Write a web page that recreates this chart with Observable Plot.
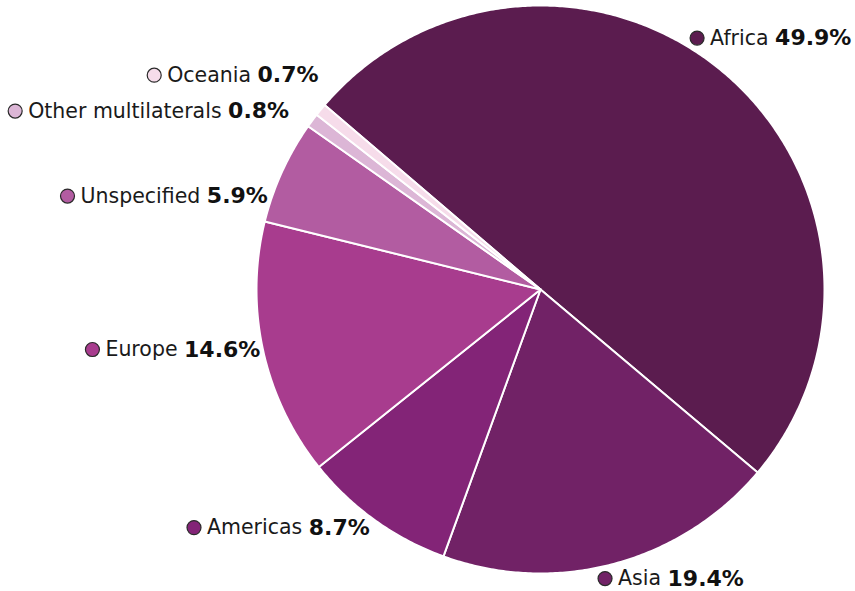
<!DOCTYPE html>
<html>
<head>
<meta charset="utf-8">
<script src="https://cdn.jsdelivr.net/npm/d3@7"></script>
<script src="https://cdn.jsdelivr.net/npm/@observablehq/plot@0.6"></script>
<style>
  html, body { margin: 0; padding: 0; background: #fff; }
  #chart svg { display: block; }
</style>
</head>
<body>
<div id="chart"></div>
<script>
// ---- data ----
const names = ["Africa", "Asia", "Americas", "Europe", "Unspecified", "Other multilaterals", "Oceania"];
const shares = [49.9, 19.4, 8.7, 14.6, 5.9, 0.8, 0.7];
const pctLabels = ["49.9%", "19.4%", "8.7%", "14.6%", "5.9%", "0.8%", "0.7%"];
const colors = ["#5b1c4f", "#712266", "#832477", "#a83c8e", "#b25ca1", "#dcb6d6", "#f6dcea"];

// ---- layout ----
const W = 855, H = 591;
const cx = 540, cy = 289, R = 284, labelR = 293;
const startDeg = -49.5;
const font = "DejaVu Sans", fontSize = 20.5, boldSize = 22;
// manual label nudges (layout only)
const nudge = {
  "Africa": [-40, -28], "Asia": [-18, 6], "Americas": [0, 0], "Europe": [6, -3],
  "Unspecified": [-6, 28], "Other multilaterals": [-16, -4], "Oceania": [5, -29]
};

const ctx = document.createElement("canvas").getContext("2d");
function tw(t, bold) { ctx.font = `${bold ? "bold " : ""}${bold ? boldSize : fontSize}px "${font}"`; return ctx.measureText(t).width; }

const total = d3.sum(shares);
const pts = [];
const labels = [];
let a = startDeg;
names.forEach((name, i) => {
  const span = shares[i] / total * 360;
  const a0 = a, a1 = a + span;
  pts.push({name, x: cx, y: cy});
  const n = Math.max(2, Math.ceil(span / 0.5));
  for (let k = 0; k <= n; k++) {
    const t = (a0 + (a1 - a0) * k / n) * Math.PI / 180;
    pts.push({name, x: cx + R * Math.sin(t), y: cy - R * Math.cos(t)});
  }
  const mid = ((a0 + a1) / 2) * Math.PI / 180;
  const [dx, dy] = nudge[name];
  const ax = cx + labelR * Math.sin(mid) + dx;
  const ay = cy - labelR * Math.cos(mid) + dy;
  const right = Math.sin(mid) >= 0;
  const wName = tw(name, false), wPct = tw(pctLabels[i], true), sp = tw(" ", false);
  let dotX, nameX, pctX;
  if (right) {
    dotX = ax + 7; nameX = dotX + 13; pctX = nameX + wName + sp;
  } else {
    pctX = ax - wPct; nameX = pctX - sp - wName; dotX = nameX - 13;
  }
  labels.push({name, pct: pctLabels[i], dotX, nameX, pctX, y: ay});
  a = a1;
});

const chart = Plot.plot({
  width: W, height: H,
  margin: 0,
  x: {domain: [0, W], range: [0, W], axis: null},
  y: {domain: [0, H], range: [0, H], axis: null},
  color: {domain: names, range: colors},
  style: {fontFamily: font, background: "#fff"},
  marks: [
    Plot.line(pts, {x: "x", y: "y", z: "name", fill: "name", stroke: "white", strokeWidth: 2, curve: "linear-closed", strokeLinejoin: "round"}),
    Plot.dot(labels, {x: "dotX", y: "y", r: 7, fill: "name", stroke: "#2a2a2a", strokeWidth: 1.2}),
    Plot.text(labels, {x: "nameX", y: "y", text: "name", textAnchor: "start", fontSize, fill: "#1a1a1a", fontFamily: font}),
    Plot.text(labels, {x: "pctX", y: "y", text: "pct", textAnchor: "start", fontSize: boldSize, fontWeight: "bold", fill: "#111", fontFamily: font})
  ]
});
document.getElementById("chart").appendChild(chart);
</script>
</body>
</html>
